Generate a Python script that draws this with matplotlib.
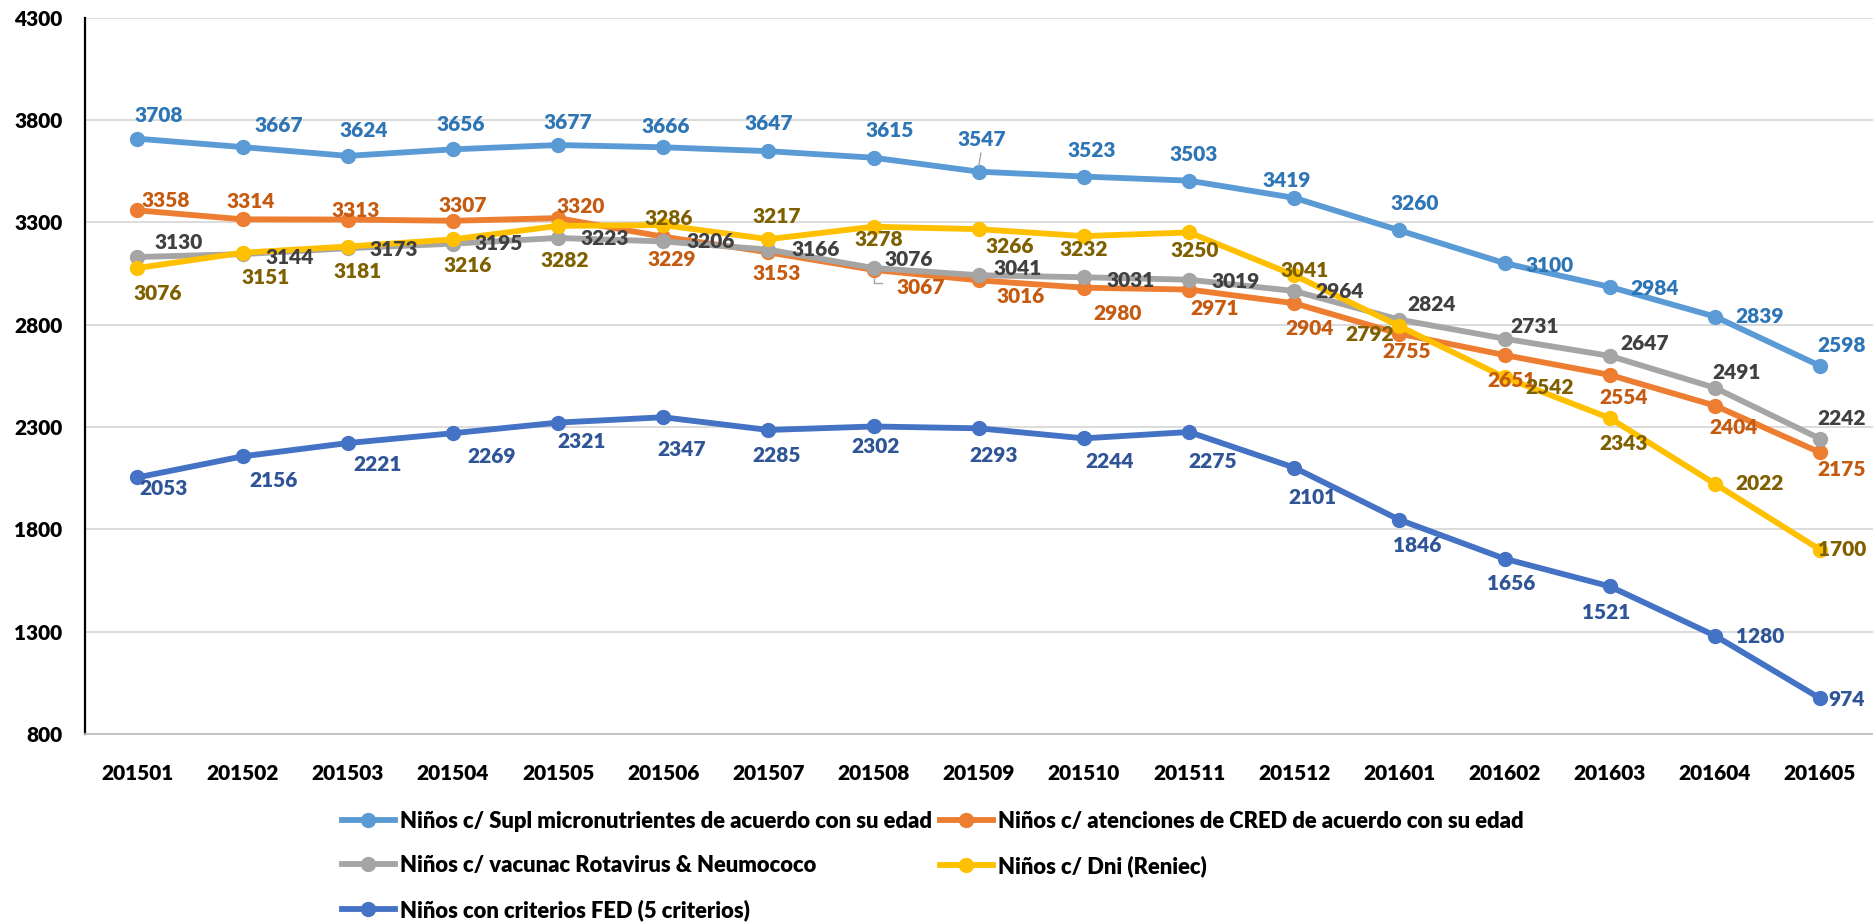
import matplotlib
matplotlib.use("Agg")
import matplotlib.pyplot as plt
from matplotlib.lines import Line2D

plt.rcParams["font.family"] = ["Lato", "DejaVu Sans"]
WEIGHT = "heavy"
plt.rcParams["font.weight"] = WEIGHT

# ── Data ──────────────────────────────────────────────────────────
periodos = ["201501", "201502", "201503", "201504", "201505", "201506",
            "201507", "201508", "201509", "201510", "201511", "201512",
            "201601", "201602", "201603", "201604", "201605"]

supl = [3708, 3667, 3624, 3656, 3677, 3666, 3647, 3615, 3547, 3523, 3503,
        3419, 3260, 3100, 2984, 2839, 2598]
cred = [3358, 3314, 3313, 3307, 3320, 3229, 3153, 3067, 3016, 2980, 2971,
        2904, 2755, 2651, 2554, 2404, 2175]
vacunac = [3130, 3144, 3173, 3195, 3223, 3206, 3166, 3076, 3041, 3031, 3019,
           2964, 2824, 2731, 2647, 2491, 2242]
dni = [3076, 3151, 3181, 3216, 3282, 3286, 3217, 3278, 3266, 3232, 3250,
       3041, 2792, 2542, 2343, 2022, 1700]
fed = [2053, 2156, 2221, 2269, 2321, 2347, 2285, 2302, 2293, 2244, 2275,
       2101, 1846, 1656, 1521, 1280, 974]

nombres = ["Niños c/ Supl micronutrientes de acuerdo con su edad",
           "Niños c/ atenciones de CRED de acuerdo con su edad",
           "Niños c/ vacunac Rotavirus & Neumococo",
           "Niños c/ Dni (Reniec)",
           "Niños con criterios FED (5 criterios)"]

# ── Styling ───────────────────────────────────────────────────────
line_colors = ["#5B9BD5", "#ED7D31", "#A5A5A5", "#FFC000", "#4472C4"]
label_colors = ["#2E75B6", "#C55A11", "#404040", "#7F6000", "#2F5597"]

# label offsets in pixels (dx right, dy down) from each point
off_supl = [(21, -23), (36, -22), (16, -25), (8, -25), (10, -23), (2, -21),
            (0, -28), (16, -27), (3, -32), (8, -26), (5, -26), (-8, -17),
            (15, -27), (45, 2), (45, 2), (45, 0), (22, -20)]
off_cred = [(28, -10), (8, -18), (8, -9), (10, -15), (23, -12), (8, 23),
            (8, 21), (47, 18), (42, 16), (34, 26), (26, 19), (15, 25),
            (7, 18), (7, 25), (14, 23), (19, 22), (22, 17)]
off_vac = [(41, -14), (47, 3), (46, 1), (46, 0), (47, 1), (47, 0), (47, 0),
           (35, -9), (39, -7), (47, 3), (47, 2), (45, 1), (32, -15),
           (30, -12), (35, -12), (22, -15), (22, -20)]
off_dni = [(20, 25), (23, 25), (10, 25), (15, 26), (7, 35), (5, -7),
           (8, -23), (5, 13), (31, 17), (0, 13), (6, 18), (10, -5),
           (-30, 8), (45, 10), (14, 25), (45, 0), (22, 0)]
off_fed = [(26, 11), (31, 24), (30, 21), (39, 23), (23, 19), (18, 32),
           (8, 26), (2, 20), (15, 27), (26, 23), (24, 29), (18, 30),
           (18, 26), (7, 25), (-4, 26), (45, 1), (27, 1)]

series = [supl, cred, vacunac, dni, fed]
offsets = [off_supl, off_cred, off_vac, off_dni, off_fed]

FS = 15
LW = 4.2
MS = 10
PX = 72 / 100  # pixel -> points at dpi 100

fig = plt.figure(figsize=(18.73, 9.22), dpi=100)
ax = fig.add_axes([0.0453, 0.204, 0.9545, 0.777])

x = list(range(len(periodos)))
for vals, col, name in zip(series, line_colors, nombres):
    ax.plot(x, vals, color=col, lw=LW, marker="o", ms=MS,
            solid_capstyle="round", label=name, zorder=3)

for vals, offs, lc in zip(series, offsets, label_colors):
    for i, v in enumerate(vals):
        dx, dy = offs[i]
        ax.annotate(str(v), (i, v), xytext=(dx * PX, -dy * PX),
                    textcoords="offset points", ha="center", va="center",
                    fontsize=FS, fontweight=WEIGHT, color=lc, zorder=5)

# small leader lines seen in the original
ax.plot([7, 7, 7.08], [vacunac[7] - 20, vacunac[7] - 75, vacunac[7] - 75],
        color="#A5A5A5", lw=1, zorder=2)
ax.plot([8.0, 8.02], [supl[8] + 25, supl[8] + 90], color="#A5A5A5",
        lw=1, zorder=4)

ax.set_xlim(-0.5, len(periodos) - 0.5)
ax.set_ylim(800, 4300)
ax.set_yticks(range(800, 4301, 500))
ax.set_xticks(x)
ax.set_xticklabels(periodos)
ax.tick_params(axis="both", length=0, labelsize=FS)
ax.tick_params(axis="y", pad=16)
ax.tick_params(axis="x", pad=22)
for lab in ax.get_xticklabels() + ax.get_yticklabels():
    lab.set_fontweight(WEIGHT)

ax.grid(axis="y", color="#D9D9D9", lw=1.3)
ax.set_axisbelow(True)
ax.spines["top"].set_visible(False)
ax.spines["right"].set_visible(False)
ax.spines["left"].set_color("black")
ax.spines["left"].set_linewidth(1.6)
ax.spines["bottom"].set_color("#BFBFBF")
ax.spines["bottom"].set_linewidth(1.3)

# legend: matplotlib fills column-major, so reorder for row-major look
order = [0, 2, 4, 1, 3]
leg_h = [Line2D([], [], color=line_colors[k], lw=LW, marker="o", ms=MS)
         for k in order]
fig.legend(leg_h, [nombres[k] for k in order], ncol=2,
           loc="upper left", bbox_to_anchor=(0.1826, 0.1205),
           frameon=False, borderpad=0, borderaxespad=0,
           prop={"size": 15.8, "weight": WEIGHT},
           handlelength=2.4, handletextpad=0.25,
           columnspacing=0.35, labelspacing=1.05)

fig.savefig("out.png", dpi=100)
